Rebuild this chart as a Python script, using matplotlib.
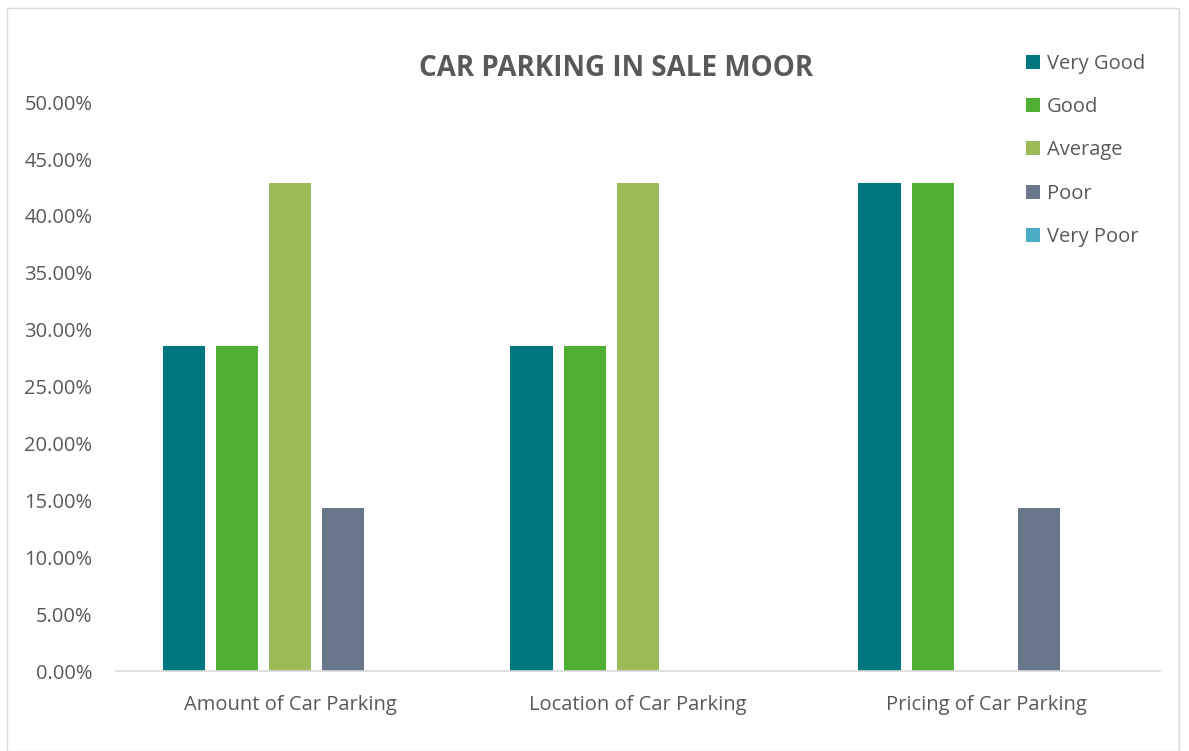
import matplotlib

matplotlib.use("Agg")

import matplotlib.pyplot as plt
import numpy as np
from matplotlib.patches import Rectangle
from matplotlib.ticker import PercentFormatter

categories = ["Amount of Car Parking", "Location of Car Parking", "Pricing of Car Parking"]
series = ["Very Good", "Good", "Average", "Poor", "Very Poor"]
very_good = [28.57, 28.57, 42.86]
good = [28.57, 28.57, 42.86]
average = [42.86, 42.86, 0.0]
poor = [14.29, 0.0, 14.29]
very_poor = [0.0, 0.0, 0.0]
values = [very_good, good, average, poor, very_poor]
colors = ["#00767F", "#4EAF32", "#9BBB59", "#68788A", "#4BACC6"]

TEXT = "#595959"
plt.rcParams["font.family"] = ["Open Sans", "DejaVu Sans"]

fig = plt.figure(figsize=(11.89, 7.51), dpi=100)
fig.patches.append(Rectangle((0.006, 0.0), 0.986, 0.99, transform=fig.transFigure,
                             fill=False, edgecolor="#D9D9D9", linewidth=1.0))
ax = fig.add_axes([0.0976, 0.1065, 0.878, 0.7575])

x = np.arange(len(categories))
slot = 0.153
width = 0.121
for i, (name, vals, color) in enumerate(zip(series, values, colors)):
    offset = (i - 2) * slot
    ax.bar(x + offset, vals, width=width, color=color, label=name)

ax.set_xlim(-0.5, len(categories) - 0.5)
ax.set_ylim(0, 50)
ax.set_yticks(np.arange(0, 50.1, 5))
ax.yaxis.set_major_formatter(PercentFormatter(decimals=2))
ax.set_xticks(x)
ax.set_xticklabels(categories)
ax.tick_params(axis="both", length=0, labelsize=14.5, colors=TEXT)
ax.tick_params(axis="x", pad=17)
ax.tick_params(axis="y", pad=17)
for side in ("top", "right", "left"):
    ax.spines[side].set_visible(False)
ax.spines["bottom"].set_color("#D9D9D9")
ax.spines["bottom"].set_linewidth(1.2)

fig.text(0.518, 0.909, "CAR PARKING IN SALE MOOR", ha="center", va="center",
         fontsize=20, fontweight="bold", color=TEXT)

fig.legend(loc="upper left", bbox_to_anchor=(0.848, 0.952), frameon=False,
           fontsize=14.5, labelcolor=TEXT, handlelength=0.7, handleheight=0.7,
           handletextpad=0.3, labelspacing=1.15)

fig.savefig("out.png", dpi=100)
